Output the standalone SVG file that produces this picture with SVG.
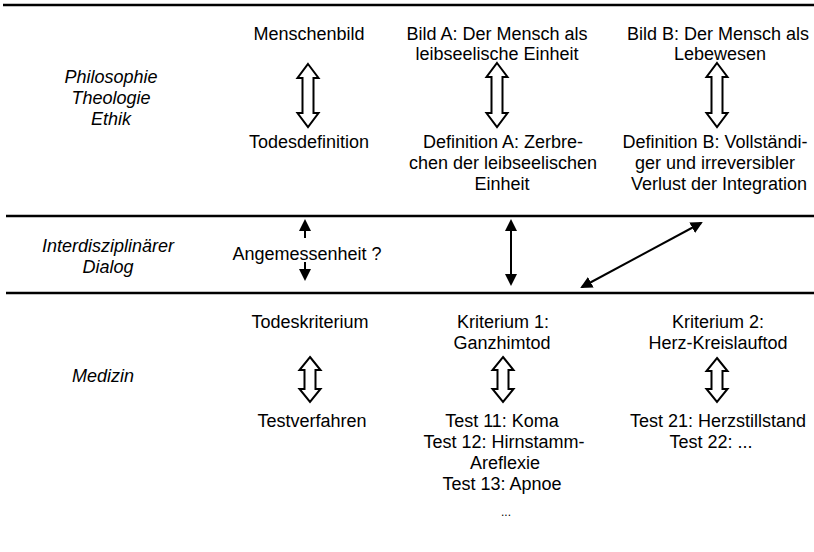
<svg xmlns="http://www.w3.org/2000/svg" width="814" height="552" viewBox="0 0 814 552">
<style>
text{font-family:"Liberation Sans",Arial,sans-serif;font-size:18px;fill:#000;text-anchor:middle}
.it{font-style:italic}
.rule{stroke:#000;stroke-width:2.5}
.hollow{fill:#fff;stroke:#000;stroke-width:2;stroke-linejoin:miter}
.arr{stroke:#000;stroke-width:2;fill:none}
</style>
<defs>
<marker id="ah" viewBox="0 0 12 12" refX="10" refY="6" markerWidth="12" markerHeight="12" markerUnits="userSpaceOnUse" orient="auto-start-reverse">
<path d="M0,0 L12,6 L0,12 Z" fill="#000"/>
</marker>
</defs>
<g id="rules">
<line class="rule" x1="3" y1="5" x2="814" y2="5"/>
<line class="rule" x1="6" y1="216" x2="814" y2="216"/>
<line class="rule" x1="6" y1="293" x2="814" y2="293"/>
</g>
<g id="band-labels">
<text class="it" x="111" y="83">Philosophie</text>
<text class="it" x="111" y="104">Theologie</text>
<text class="it" x="111" y="125">Ethik</text>
<text class="it" x="108" y="252">Interdisziplinärer</text>
<text class="it" x="108" y="273">Dialog</text>
<text class="it" x="103" y="382">Medizin</text>
</g>
<g id="menschenbild"><text x="309" y="40">Menschenbild</text></g>
<g id="bildA"><text x="497" y="40">Bild A: Der Mensch als</text><text x="497" y="60">leibseelische Einheit</text></g>
<g id="bildB"><text x="718" y="40">Bild B: Der Mensch als</text><text x="720" y="60">Lebewesen</text></g>
<g id="todesdefinition"><text x="309" y="148">Todesdefinition</text></g>
<g id="defA"><text x="503" y="148">Definition A: Zerbre-</text><text x="503" y="169">chen der leibseelischen</text><text x="502" y="190">Einheit</text></g>
<g id="defB"><text x="715" y="148">Definition B: Vollständi-</text><text x="715" y="169">ger und irreversibler</text><text x="719" y="190">Verlust der Integration</text></g>
<g id="angemessenheit"><text x="307" y="260">Angemessenheit ?</text></g>
<g id="todeskriterium"><text x="310" y="328">Todeskriterium</text></g>
<g id="kriterium1"><text x="503" y="328">Kriterium 1:</text><text x="502" y="349">Ganzhimtod</text></g>
<g id="kriterium2"><text x="718" y="328">Kriterium 2:</text><text x="718" y="349">Herz-Kreislauftod</text></g>
<g id="testverfahren"><text x="312" y="427">Testverfahren</text></g>
<g id="tests1"><text x="502" y="427">Test 11: Koma</text><text x="504" y="448">Test 12: Hirnstamm-</text><text x="505" y="469">Areflexie</text><text x="502" y="490">Test 13: Apnoe</text><text x="506" y="516" style="font-size:12px">...</text></g>
<g id="tests2"><text x="718" y="427">Test 21: Herzstillstand</text><text x="711" y="448">Test 22: ...</text></g>
<g id="connectors">
<polygon class="hollow" points="308,64 318.5,78 313.5,78 313.5,113 318.5,113 308,127 297.5,113 302.5,113 302.5,78 297.5,78"/>
<polygon class="hollow" points="497,63 507.5,77 502.5,77 502.5,113 507.5,113 497,127 486.5,113 491.5,113 491.5,77 486.5,77"/>
<polygon class="hollow" points="717,63 727.5,77 722.5,77 722.5,113 727.5,113 717,127 706.5,113 711.5,113 711.5,77 706.5,77"/>
<polygon class="hollow" points="310,357 320.5,370 315.5,370 315.5,389 320.5,389 310,402 299.5,389 304.5,389 304.5,370 299.5,370"/>
<polygon class="hollow" points="503,357 513.5,370 508.5,370 508.5,389 513.5,389 503,402 492.5,389 497.5,389 497.5,370 492.5,370"/>
<polygon class="hollow" points="717,358 727.5,371 722.5,371 722.5,389 727.5,389 717,402 706.5,389 711.5,389 711.5,371 706.5,371"/>
<line class="arr" x1="305" y1="238" x2="305" y2="221" marker-end="url(#ah)"/>
<line class="arr" x1="305" y1="262" x2="305" y2="279" marker-end="url(#ah)"/>
<line class="arr" x1="511" y1="221" x2="511" y2="284" marker-start="url(#ah)" marker-end="url(#ah)"/>
<line class="arr" x1="582" y1="287" x2="701" y2="223" marker-start="url(#ah)" marker-end="url(#ah)"/>
</g>
</svg>
